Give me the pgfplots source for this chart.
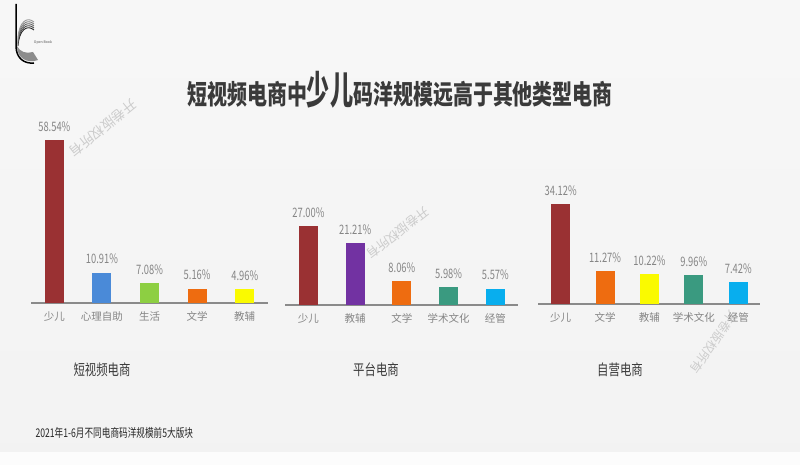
\documentclass[border=0pt]{standalone}
\usepackage{pgfplots}
\pgfplotsset{compat=1.18}
\usepackage{fontspec}
\usepackage{graphicx}
\setmainfont{Noto Sans CJK SC}
\newfontfamily\cjk{Noto Sans CJK SC}
\definecolor{cRed}{HTML}{9A3133}
\definecolor{cBlue}{HTML}{4A8AD8}
\definecolor{cGreen}{HTML}{8DCF42}
\definecolor{cOrange}{HTML}{EE6C10}
\definecolor{cYellow}{HTML}{FAFA00}
\definecolor{cPurple}{HTML}{7232A2}
\definecolor{cTeal}{HTML}{3A9A80}
\definecolor{cSky}{HTML}{08AEEE}
\definecolor{axisgray}{HTML}{8A8A8A}
\definecolor{lblgray}{HTML}{858585}
\definecolor{titlegray}{HTML}{3A3A3A}
\newcommand{\cond}[2][0.74]{\scalebox{#1}[1]{#2}}
\pgfplotsset{
  panel/.style={
    ybar, bar width=19pt, bar shift=0pt,
    anchor=south west, ymin=0, hide y axis,
    axis x line*=bottom,
    x axis line style={draw=axisgray, line width=1.3pt, -},
    xtick={0,1,2,3,4}, major tick length=0pt,
    xticklabel style={font=\fontsize{10.5}{12}\selectfont, text=lblgray, yshift=-5pt},
    xticklabel={\cond[0.78]{\strut\tick}},
    clip=false,
    enlarge x limits=false,
    point meta=explicit symbolic,
    nodes near coords={\cond[0.72]{\pgfplotspointmeta}},
    every node near coord/.append style={font=\fontsize{13}{14}\selectfont, text=lblgray, yshift=5pt},
    every axis plot/.append style={draw=none},
  }
}
\begin{document}
\begin{tikzpicture}
\useasboundingbox (0pt,-465pt) rectangle (800pt,0pt);
\shade[top color=white!50!black!6, middle color=black!10, bottom color=black!5] (0pt,-465pt) rectangle (800pt,0pt);
\fill[white!70!black!4] (0pt,-465pt) rectangle (800pt,-452pt);
% logo
\fill[black!45] (17pt,-46pt) .. controls (17pt,-58pt) and (27pt,-64pt) .. (38pt,-60pt) -- (33pt,-52pt) .. controls (26pt,-54pt) and (20pt,-52pt) .. cycle;
\draw[black, line width=1.5pt] (16pt,-4pt) -- (16pt,-46pt) .. controls (16pt,-58pt) and (24pt,-64pt) .. (34pt,-63pt);
\foreach \i/\c in {0/black!85,2/black!70,4/black!60,6/black!50,8/black!40}
  \draw[\c, line width=0.9pt] (18pt,-46pt+\i pt) .. controls (19pt,-30pt+\i pt) and (27pt,-24pt+\i pt) .. (34pt,-30pt+\i pt);
\node[font=\fontsize{3.5}{4}\selectfont, text=black!70] at (43pt,-43pt) {Open Book};
% title
\node[font=\fontsize{27}{30}\selectfont\bfseries, text=titlegray, anchor=base] at (400pt,-105pt)
  {\cond[0.74]{短视频电商中{\fontsize{39}{40}\selectfont\cond[0.8]{少儿}}码洋规模远高于其他类型电商}};
% watermarks
\node[rotate=219, font=\fontsize{13.5}{14}\selectfont, text=black!20] at (103pt,-128pt) {开卷版权所有};
\node[rotate=218, font=\fontsize{12.5}{14}\selectfont, text=black!20] at (398pt,-233pt) {开卷版权所有};
\node[rotate=235, font=\fontsize{12}{14}\selectfont, text=black!20] at (714pt,-342pt) {开卷版权所有};

% panel 1
\begin{axis}[panel, at={(31pt,-303pt)}, x=47.6pt, y=2.78pt, xmin=-0.49, xmax=4.49, ymax=60,
  xticklabels={少儿,心理自助,生活,文学,教辅}]
\addplot[fill=cRed] coordinates {(0,58.54) [58.54\%]};
\addplot[fill=cBlue] coordinates {(1,10.91) [10.91\%]};
\addplot[fill=cGreen] coordinates {(2,7.08) [7.08\%]};
\addplot[fill=cOrange] coordinates {(3,5.16) [5.16\%]};
\addplot[fill=cYellow] coordinates {(4,4.96) [4.96\%]};
\end{axis}
% panel 2
\begin{axis}[panel, at={(285pt,-305pt)}, x=46.75pt, y=2.93pt, xmin=-0.5, xmax=4.48, ymax=40,
  xticklabels={少儿,教辅,文学,学术文化,经管}]
\addplot[fill=cRed] coordinates {(0,27.00) [27.00\%]};
\addplot[fill=cPurple] coordinates {(1,21.21) [21.21\%]};
\addplot[fill=cOrange] coordinates {(2,8.06) [8.06\%]};
\addplot[fill=cTeal] coordinates {(3,5.98) [5.98\%]};
\addplot[fill=cSky] coordinates {(4,5.57) [5.57\%]};
\end{axis}
% panel 3
\begin{axis}[panel, at={(538pt,-304pt)}, x=44.4pt, y=2.93pt, xmin=-0.51, xmax=4.49, ymax=40,
  xticklabels={少儿,文学,教辅,学术文化,经管}]
\addplot[fill=cRed] coordinates {(0,34.12) [34.12\%]};
\addplot[fill=cOrange] coordinates {(1,11.27) [11.27\%]};
\addplot[fill=cYellow] coordinates {(2,10.22) [10.22\%]};
\addplot[fill=cTeal] coordinates {(3,9.96) [9.96\%]};
\addplot[fill=cSky] coordinates {(4,7.42) [7.42\%]};
\end{axis}
% group titles
\node[font=\fontsize{15}{16}\selectfont, text=titlegray] at (102pt,-370pt) {\cond[0.76]{短视频电商}};
\node[font=\fontsize{15}{16}\selectfont, text=titlegray] at (376pt,-370pt) {\cond[0.76]{平台电商}};
\node[font=\fontsize{15}{16}\selectfont, text=titlegray] at (620pt,-370pt) {\cond[0.76]{自营电商}};
% footnote
\node[anchor=west, font=\fontsize{12}{13}\selectfont, text=black!85] at (32pt,-433pt) {\cond[0.72]{2021年1-6月不同电商码洋规模前5大版块}};
\end{tikzpicture}
\end{document}
